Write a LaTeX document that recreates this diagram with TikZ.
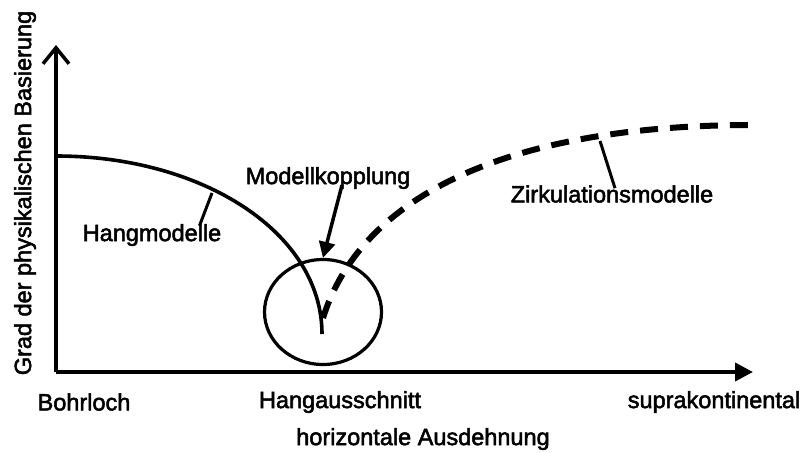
\documentclass[tikz,border=0pt]{standalone}
\usepackage{fontspec}
\setmainfont{Liberation Sans}[RawFeature={embolden=2.2}]
\usetikzlibrary{arrows.meta,shapes.geometric}
\begin{document}
\begin{tikzpicture}[x=1pt,y=-1pt,
  lbl/.style={font=\fontsize{23.5}{27}\selectfont, inner sep=0pt},
  axis/.style={line width=4pt},
  curve/.style={line width=3.6pt},
  dcurve/.style={line width=6pt, dash pattern=on 18pt off 12pt},
  leader/.style={line width=3pt}]
\useasboundingbox[fill=white] (0,0) rectangle (802,452);
% axes
\coordinate (O) at (56,372);
\coordinate (Ytop) at (56,45);
\coordinate (Xend) at (753,372);
\draw[axis, -{Straight Barb[length=16pt,width=26pt,line width=3.5pt]}] (O) -- (Ytop);
\draw[axis, -{Triangle[length=18pt,width=18pt]}] (O) -- (Xend);
% axis labels
\node[lbl] (bohr) at (84,402) {Bohrloch};
\node[lbl] (hang) at (340,402) {Hangausschnitt};
\node[lbl] (supra) at (714,402) {suprakontinental};
\node[lbl] (hor) at (423,439) {horizontale Ausdehnung};
\node[lbl, rotate=90] (grad) at (25,193) {Grad der physikalischen Basierung};
% circle
\node[draw, line width=3.2pt, ellipse, minimum width=117pt, minimum height=105pt, inner sep=0pt] (circ) at (323,312) {};
% curves
\coordinate (hs) at (56,156);
\coordinate (he) at (322,334);
\draw[curve] (hs) .. controls (203,156) and (322,233) .. (he);
\coordinate (zs) at (323,318);
\coordinate (ze) at (753,125);
\draw[dcurve] (zs) .. controls (360,200) and (500,125) .. (ze);
% labels with leaders
\node[lbl] (hm) at (152,235) {Hangmodelle};
\coordinate (hmL) at (212,193);
\draw[leader] (hm.north east) ++(-22pt,-2pt) coordinate (hmA) -- (hmL);
\node[lbl] (zm) at (612,194) {Zirkulationsmodelle};
\coordinate (zmL) at (600,141);
\draw[leader] (zm.north) ++(3pt,-3pt) coordinate (zmA) -- (zmL);
\node[lbl] (mk) at (328,178) {Modellkopplung};
\draw[line width=3.5pt, -{Triangle[length=16pt,width=16pt]}] (mk.south) ++(14pt,4pt) coordinate (mkA) -- (circ.north);
\end{tikzpicture}
\end{document}
